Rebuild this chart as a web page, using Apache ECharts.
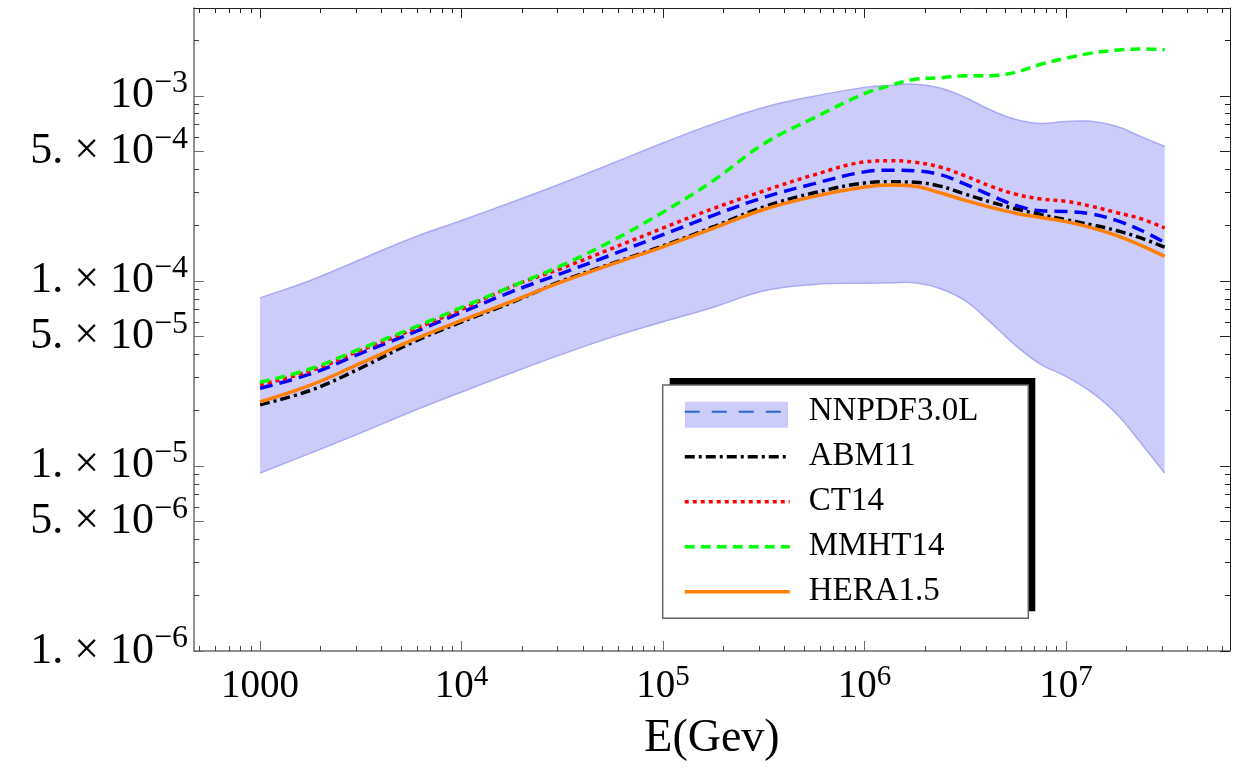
<!DOCTYPE html>
<html>
<head>
<meta charset="utf-8">
<script src="https://cdn.jsdelivr.net/npm/echarts@6/dist/echarts.min.js"></script>
<style>
html,body{margin:0;padding:0;background:#fff;}
#chart{width:1249px;height:772px;}
</style>
</head>
<body>
<div id="chart"></div>
<script>
// ---- data ----
const energyGeV = [1000, 1778, 3162, 5623, 10000, 17783, 31623, 56234, 100000, 177828, 316228, 562341,
  1000000, 1333521, 1778279, 2371374, 3162278, 4216965, 5623413, 7498942, 10000000, 13335214, 17782794, 23713737, 30902954];

const nnpdfCentral = [2.63e-5, 3.14e-5, 4.06e-5, 5.20e-5, 6.76e-5, 8.75e-5, 1.101e-4, 1.39e-4, 1.775e-4, 2.26e-4, 2.82e-4, 3.35e-4,
  3.88e-4, 3.96e-4, 3.93e-4, 3.75e-4, 3.33e-4, 2.90e-4, 2.56e-4, 2.39e-4, 2.37e-4, 2.30e-4, 2.12e-4, 1.87e-4, 1.61e-4];
const nnpdfUpper = [8.09e-5, 1.005e-4, 1.305e-4, 1.695e-4, 2.12e-4, 2.66e-4, 3.37e-4, 4.32e-4, 5.56e-4, 7.05e-4, 8.65e-4, 9.94e-4,
  1.110e-3, 1.138e-3, 1.155e-3, 1.101e-3, 9.79e-4, 8.38e-4, 7.45e-4, 7.08e-4, 7.26e-4, 7.28e-4, 6.84e-4, 6.00e-4, 5.32e-4];
const nnpdfLower = [9.16e-6, 1.172e-5, 1.508e-5, 1.963e-5, 2.51e-5, 3.19e-5, 4.02e-5, 4.98e-5, 6.01e-5, 7.20e-5, 8.83e-5, 9.57e-5,
  9.71e-5, 9.76e-5, 9.77e-5, 9.10e-5, 7.81e-5, 5.98e-5, 4.48e-5, 3.54e-5, 3.05e-5, 2.51e-5, 1.92e-5, 1.318e-5, 9.16e-6];
const abm11 = [2.14e-5, 2.56e-5, 3.38e-5, 4.62e-5, 6.00e-5, 7.65e-5, 1.00e-4, 1.245e-4, 1.545e-4, 1.96e-4, 2.51e-4, 2.99e-4,
  3.38e-4, 3.43e-4, 3.41e-4, 3.25e-4, 2.94e-4, 2.67e-4, 2.45e-4, 2.28e-4, 2.14e-4, 2.01e-4, 1.87e-4, 1.70e-4, 1.52e-4];
const ct14 = [2.74e-5, 3.26e-5, 4.21e-5, 5.40e-5, 7.02e-5, 9.33e-5, 1.172e-4, 1.50e-4, 1.93e-4, 2.46e-4, 3.06e-4, 3.74e-4,
  4.39e-4, 4.46e-4, 4.37e-4, 4.12e-4, 3.69e-4, 3.25e-4, 2.94e-4, 2.77e-4, 2.69e-4, 2.53e-4, 2.34e-4, 2.16e-4, 1.93e-4];
const mmht14 = [2.83e-5, 3.35e-5, 4.30e-5, 5.52e-5, 7.19e-5, 9.35e-5, 1.216e-4, 1.652e-4, 2.35e-4, 3.48e-4, 5.50e-4, 7.60e-4,
  1.026e-3, 1.133e-3, 1.227e-3, 1.25e-3, 1.282e-3, 1.283e-3, 1.34e-3, 1.48e-3, 1.595e-3, 1.70e-3, 1.762e-3, 1.79e-3, 1.773e-3];
const hera15 = [2.22e-5, 2.73e-5, 3.59e-5, 4.75e-5, 6.11e-5, 7.75e-5, 9.90e-5, 1.234e-4, 1.527e-4, 1.924e-4, 2.43e-4, 2.86e-4,
  3.21e-4, 3.29e-4, 3.24e-4, 2.99e-4, 2.72e-4, 2.50e-4, 2.32e-4, 2.20e-4, 2.09e-4, 1.94e-4, 1.76e-4, 1.55e-4, 1.355e-4];

const seriesNames = ['NNPDF3.0L', 'ABM11', 'CT14', 'MMHT14', 'HERA1.5'];

// axis range and ticks
const xRange = [470, 6.52e7];
const yRange = [1e-6, 2.98e-3];
const xTickValues = [1e3, 1e4, 1e5, 1e6, 1e7];
const xTickBase = ['1000', '10', '10', '10', '10'];
const xTickSup = ['', '4', '5', '6', '7'];
const yTickValues = [1e-3, 5e-4, 1e-4, 5e-5, 1e-5, 5e-6, 1e-6];
const yTickBase = ['10', '5. \u00d7 10', '1. \u00d7 10', '5. \u00d7 10', '1. \u00d7 10', '5. \u00d7 10', '1. \u00d7 10'];
const yTickSup = ['\u22123', '\u22124', '\u22124', '\u22125', '\u22125', '\u22126', '\u22126'];
const axisTitle = 'E(Gev)';

// ---- build ----
const L = Math.log10;
const FONT = "'Liberation Serif', 'DejaVu Serif', serif";
const xMinor = [], yMinor = [];
for (let d = 2; d <= 7; d++) for (let m = 2; m <= 9; m++) xMinor.push(L(m * Math.pow(10, d)));
for (let d = -7; d <= -3; d++) for (let m = 2; m <= 9; m++) if (m !== 5) yMinor.push(L(m * Math.pow(10, d)));
const xMajor = xTickValues.map(L);
const yMajor = yTickValues.map(L);

function findIdx(list, v) { return list.findIndex(t => Math.abs(L(t) - v) < 1e-6); }

const xMin = L(xRange[0]), xMax = L(xRange[1]);
const yMin = L(yRange[0]), yMax = L(yRange[1]);

function xAxisDef(position, values, len, labels, lineColor, showLine) {
  return {
    type: 'value', position: position, min: xMin, max: xMax, offset: 0, z: 1,
    axisLine: { show: showLine, onZero: false, lineStyle: { color: lineColor, width: position === 'bottom' ? 1.5 : 1 } },
    axisTick: { show: true, inside: true, length: len, customValues: values, lineStyle: { color: lineColor, width: 1 } },
    axisLabel: labels ? {
      show: true, customValues: xMajor, margin: 12, hideOverlap: false, showMinLabel: true, showMaxLabel: true,
      formatter: function (v) {
        const i = findIdx(xTickValues, v);
        if (i < 0) return '';
        return xTickSup[i] ? '{b|' + xTickBase[i] + '}{s|' + xTickSup[i] + '}' : '{b|' + xTickBase[i] + '}';
      },
      rich: {
        b: { fontFamily: FONT, fontSize: 39, lineHeight: 48, color: '#000' },
        s: { fontFamily: FONT, fontSize: 29, lineHeight: 28, verticalAlign: 'top', color: '#000' }
      }
    } : { show: false },
    splitLine: { show: false },
    name: labels ? axisTitle : '',
    nameLocation: 'middle', nameGap: 65,
    nameTextStyle: { fontFamily: FONT, fontSize: 46, color: '#000' }
  };
}
function yAxisDef(position, values, len, labels, lineColor, showLine) {
  return {
    type: 'value', position: position, min: yMin, max: yMax, offset: 0, z: 1,
    axisLine: { show: showLine, onZero: false, lineStyle: { color: lineColor, width: position === 'left' ? 1.5 : 1 } },
    axisTick: { show: true, inside: true, length: len, customValues: values, lineStyle: { color: lineColor, width: 1 } },
    axisLabel: labels ? {
      show: true, customValues: yMajor, margin: 6, hideOverlap: false, showMinLabel: true, showMaxLabel: true,
      formatter: function (v) {
        const i = findIdx(yTickValues, v);
        if (i < 0) return '';
        return '{b|' + yTickBase[i] + '}{s|' + yTickSup[i] + '}';
      },
      rich: {
        b: { fontFamily: FONT, fontSize: 44, lineHeight: 56, color: '#000' },
        s: { fontFamily: FONT, fontSize: 32, lineHeight: 31, verticalAlign: 'top', color: '#000' }
      }
    } : { show: false },
    splitLine: { show: false }
  };
}

const pts = arr => energyGeV.map((e, i) => [L(e), L(arr[i])]);
const bandEdge = '#a9a9f4';
const bandFill = '#ccccfb';
const SMOOTH = 0.4;

// smooth cubic segments through pixel points (same style as line smoothing)
function smoothSeg(p, s) {
  const n = p.length, outC = [], inC = [];
  for (let i = 0; i < n; i++) {
    const prev = p[i - 1] || p[i], next = p[i + 1] || p[i];
    const vx = (next[0] - prev[0]) * s, vy = (next[1] - prev[1]) * s;
    const d0 = Math.hypot(p[i][0] - prev[0], p[i][1] - prev[1]);
    const d1 = Math.hypot(next[0] - p[i][0], next[1] - p[i][1]);
    const r = (d0 + d1) ? d1 / (d0 + d1) : 0.5;
    outC[i] = [p[i][0] + vx * r, p[i][1] + vy * r];
    inC[i] = [p[i][0] - vx * (1 - r), p[i][1] - vy * (1 - r)];
  }
  let str = '';
  for (let i = 0; i < n - 1; i++) {
    str += ' C ' + outC[i][0] + ' ' + outC[i][1] + ' ' + inC[i + 1][0] + ' ' + inC[i + 1][1] + ' ' + p[i + 1][0] + ' ' + p[i + 1][1];
  }
  return str;
}

const bandRows = energyGeV.map((e, i) => [L(e), L(nnpdfUpper[i]), L(nnpdfLower[i])]);

const lineDefs = [
  { name: 'NNPDF3.0L', data: nnpdfCentral, color: '#0000ff', type: [13, 7] },
  { name: 'ABM11', data: abm11, color: '#000000', type: [10, 4, 3, 4] },
  { name: 'CT14', data: ct14, color: '#ff0000', type: [4, 4] },
  { name: 'MMHT14', data: mmht14, color: '#00ff00', type: [10, 6] },
  { name: 'HERA1.5', data: hera15, color: '#ff7f00', type: 'solid' }
];

const series = [
  {
    name: 'NNPDF band', type: 'custom', coordinateSystem: 'cartesian2d', z: 1,
    data: bandRows, encode: { x: 0, y: [1, 2] }, silent: true,
    renderItem: function (params, api) {
      if (params.dataIndexInside !== 0) return null;
      const n = params.dataInsideLength;
      const up = [], lo = [];
      for (let i = 0; i < n; i++) {
        up.push(api.coord([api.value(0, i), api.value(1, i)]));
        lo.push(api.coord([api.value(0, i), api.value(2, i)]));
      }
      const loR = lo.slice().reverse();
      const upPath = 'M ' + up[0][0] + ' ' + up[0][1] + smoothSeg(up, SMOOTH);
      const loPath = 'M ' + lo[0][0] + ' ' + lo[0][1] + smoothSeg(lo, SMOOTH);
      const fillPath = upPath + ' L ' + loR[0][0] + ' ' + loR[0][1] + smoothSeg(loR, SMOOTH) + ' Z';
      return {
        type: 'group',
        children: [
          { type: 'path', shape: { pathData: fillPath }, style: { fill: bandFill, stroke: 'none' } },
          { type: 'path', shape: { pathData: upPath }, style: { fill: 'none', stroke: bandEdge, lineWidth: 1.5 } },
          { type: 'path', shape: { pathData: loPath }, style: { fill: 'none', stroke: bandEdge, lineWidth: 1.5 } }
        ]
      };
    }
  }
].concat(lineDefs.map(d => ({
  name: d.name, type: 'line', data: pts(d.data), smooth: SMOOTH, showSymbol: false,
  itemStyle: { color: d.color },
  lineStyle: { color: d.color, width: 3.5, type: d.type }, z: 2
})));

const option = {
  animation: false,
  backgroundColor: '#ffffff',
  grid: { left: 194, right: 19, top: 8, bottom: 121, containLabel: false, outerBoundsMode: 'none' },
  xAxis: [
    xAxisDef('bottom', xMajor, 10, true, '#6e6e6e', true),
    xAxisDef('bottom', xMinor, 5, false, '#444', false),
    xAxisDef('top', xMajor, 10, false, '#222', true),
    xAxisDef('top', xMinor, 5, false, '#222', false)
  ],
  yAxis: [
    yAxisDef('left', yMajor, 10, true, '#6e6e6e', true),
    yAxisDef('left', yMinor, 5, false, '#444', false),
    yAxisDef('right', yMajor, 10, false, '#222', true),
    yAxisDef('right', yMinor, 5, false, '#222', false)
  ],
  graphic: [
    { type: 'rect', z: 3, shape: { x: 669.7, y: 378, width: 365.6, height: 233.3 }, style: { fill: '#000' } },
    { type: 'rect', z: 3, shape: { x: 662.7, y: 385, width: 365.6, height: 233.3 }, style: { fill: '#fff', stroke: '#666', lineWidth: 1.5 } },
    { type: 'rect', z: 3, shape: { x: 685, y: 401.7, width: 103, height: 26 }, style: { fill: bandFill } }
  ],
  legend: {
    show: true, z: 5, orient: 'vertical', left: 683, top: 393.7, padding: 0,
    itemWidth: 105, itemHeight: 26, itemGap: 9, selectedMode: false,
    itemStyle: { color: 'rgba(0,0,0,0)', borderWidth: 0, opacity: 0 },
    lineStyle: { width: 3.5 },
    textStyle: { fontFamily: FONT, fontSize: 33, lineHeight: 36, color: '#000', padding: [0, 0, 0, 14] },
    data: [
      { name: 'NNPDF3.0L', lineStyle: { color: '#2a66cc', width: 2, type: [15, 12] } },
      'ABM11', 'CT14', 'MMHT14', 'HERA1.5'
    ]
  },
  series: series
};

const chart = echarts.init(document.getElementById('chart'), null, { renderer: 'canvas' });
chart.setOption(option);
</script>
</body>
</html>
